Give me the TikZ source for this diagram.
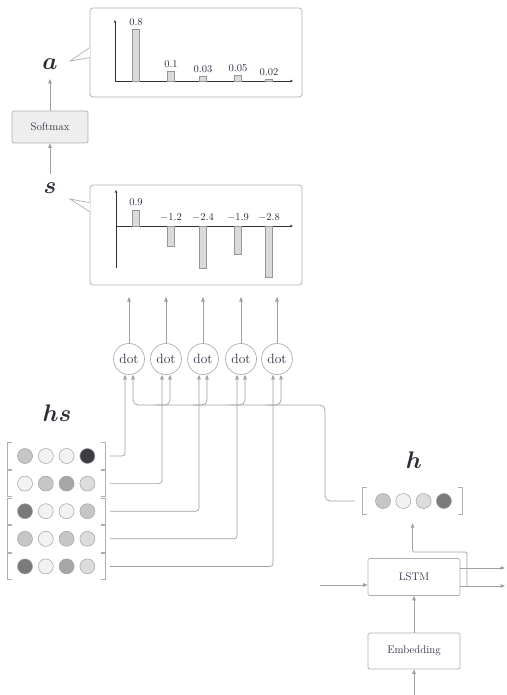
\RequirePackage{fix-cm}
\documentclass[tikz,border=0pt]{standalone}
\usepackage{amsmath}
\usepackage{fontspec}
\usepackage{tikz}
\usetikzlibrary{arrows.meta,calc}

\definecolor{wirec}{RGB}{160,160,160}
\definecolor{boxc}{RGB}{175,175,175}
\definecolor{txtc}{RGB}{45,45,65}
\definecolor{lblc}{RGB}{45,45,55}
\definecolor{axisc}{RGB}{50,50,50}
\definecolor{barf}{RGB}{218,218,218}
\definecolor{barc}{RGB}{150,150,150}
\definecolor{softf}{RGB}{238,238,238}
\definecolor{cellc}{RGB}{160,160,160}
\definecolor{cvl}{RGB}{242,242,242}
\definecolor{cl}{RGB}{220,220,220}
\definecolor{cm}{RGB}{198,198,198}
\definecolor{cmd}{RGB}{166,166,166}
\definecolor{cd}{RGB}{122,122,122}
\definecolor{cvd}{RGB}{62,62,66}

\begin{document}
\begin{tikzpicture}[x=1pt,y=-1pt,
   wire/.style={draw=wirec,line width=0.7pt},
   arr/.style={wire,-{Triangle[length=4.5pt,width=3.6pt]}},
   layer/.style={draw=boxc,line width=0.7pt,rounded corners=2pt,minimum width=92pt,text=txtc,font=\fontsize{11}{13}\selectfont},
   dotop/.style={circle,draw=boxc,line width=0.7pt,minimum size=31pt,inner sep=0pt,text=txtc,font=\fontsize{13.5}{15}\selectfont},
   callout/.style={draw=boxc,line width=0.7pt,fill=white},
   axis/.style={draw=axisc,line width=0.6pt,-{Stealth[length=3pt,width=2.5pt]}},
   bar/.style={draw=barc,fill=barf,line width=0.5pt},
   val/.style={text=txtc,font=\fontsize{10.5}{12}\selectfont,inner sep=0pt},
   cell/.style={circle,draw=cellc,minimum size=15pt,inner sep=0pt,line width=0.5pt},
   vec/.style={draw=boxc,line width=0.7pt},
   lbl/.style={text=lblc,font=\fontsize{24}{28}\selectfont}]
\useasboundingbox (0,0) rectangle (506,695);

% attention weights
\node[callout,rounded corners=3pt,minimum width=212pt,minimum height=89pt] (abox) at (196,52.5) {};
\coordinate (atip) at (70,61);
\filldraw[callout] ($(abox.north west)+(0,40)$) -- (atip) -- ($(abox.north west)+(0,50)$);
\draw[white,line width=1.2pt] ($(abox.north west)+(0,40.8)$) -- ($(abox.north west)+(0,49.2)$);
\coordinate (ao) at (115,81);
\draw[axis] (ao) -- (293,81);
\draw[axis] (ao) -- (115,20);
\foreach \x/\h/\1 in %
{136/52/0.8,171/10/0.1,203/5/0.03,238/6/0.05,269/2/0.02} {
   \draw[bar] (\x-3.5,81) rectangle (\x+3.5,81-\h);
   \node[val] at (\x,81-\h-7) {\1};
}
\node[lbl] (la) at (50,64) {$\boldsymbol{a}$};

\node[layer,fill=softf,minimum width=76pt,minimum height=32pt] (softmax) at (50,127) {Softmax};
\draw[arr,shorten >=6pt] (softmax) -- (la);

% scores
\node[callout,rounded corners=3pt,minimum width=212pt,minimum height=100pt] (sbox) at (196,235) {};
\coordinate (stip) at (70,199);
\filldraw[callout] ($(sbox.north west)+(0,18)$) -- (stip) -- ($(sbox.north west)+(0,27)$);
\draw[white,line width=1.2pt] ($(sbox.north west)+(0,18.8)$) -- ($(sbox.north west)+(0,26.2)$);
\coordinate (so) at (116,226);
\draw[axis] (so) -- (293,226);
\draw[axis] (116,268) -- (116,190);
\foreach \x/\h/\1 in %
{136/16/0.9,171/-20/$-1.2$,203/-42/$-2.4$,238/-28/$-1.9$,269/-51/$-2.8$} {
   \draw[bar] (\x-3.5,226) rectangle (\x+3.5,226-\h);
   \pgfmathsetmacro{\ly}{min(226-\h,226)-8}
   \node[val] at (\x,\ly) {\1};
}
\node[lbl] (ls) at (50,188) {$\boldsymbol{s}$};
\draw[arr,shorten <=5pt] (ls) -- (softmax);

% dot products
\coordinate (stop) at (0,297);
\coordinate (bus) at (325,405);
\node[lbl] (lhs) at (57,413) {$\boldsymbol{hs}$};
\node[lbl] (lh) at (414,460) {$\boldsymbol{h}$};
\node[minimum width=99pt,minimum height=26pt,inner sep=0pt] (hv) at (412.5,501) {};
\draw[vec] ([xshift=4pt]hv.north west) -- (hv.north west) -- (hv.south west) -- ([xshift=4pt]hv.south west);
\draw[vec] ([xshift=-4pt]hv.north east) -- (hv.north east) -- (hv.south east) -- ([xshift=-4pt]hv.south east);
\foreach \col [count=\k from 0] in {cm,cvl,cl,cd} {
   \node[cell,fill=\col] (h\k) at (383+20.3*\k,501) {};
}
\foreach \i/\x/\cols in %
{1/129/{cm,cvl,cvl,cvd},2/166/{cvl,cm,cmd,cl},3/203/{cd,cvl,cvl,cm},4/241/{cm,cvl,cm,cl},5/277/{cd,cvl,cmd,cl}} {
   \node[dotop] (d\i) at (\x,359) {dot};
   \draw[arr] (d\i) -- (d\i |- stop);
   \pgfmathsetmacro{\y}{428.4+27.6*\i}
   \node[minimum width=97pt,minimum height=26pt,inner sep=0pt] (r\i) at (56.5,\y) {};
   \draw[vec] ([xshift=4pt]r\i.north west) -- (r\i.north west) -- (r\i.south west) -- ([xshift=4pt]r\i.south west);
   \draw[vec] ([xshift=-4pt]r\i.north east) -- (r\i.north east) -- (r\i.south east) -- ([xshift=-4pt]r\i.south east);
   \foreach \col [count=\k from 0] in \cols {
      \node[cell,fill=\col] (c\i\k) at (25+20.8*\k,\y) {};
   }
   \draw[arr,rounded corners=3pt] ([xshift=5pt]r\i.east) -| ([xshift=-4pt]d\i.south);
}
\draw[arr,rounded corners=5pt] ([xshift=-8pt]hv.west) -| (bus) -| ([xshift=4pt]d1.south);
\foreach \i in {2,...,5} {
   \draw[arr,rounded corners=5pt] ([xshift=-10pt]d\i.south |- bus) -| ([xshift=4pt]d\i.south);
}

% decoder
\node[layer,minimum height=37pt] (lstm) at (414,577) {LSTM};
\node[layer,minimum height=36pt] (emb) at (414,651) {Embedding};
\coordinate (xin) at (414,697);
\coordinate (hin) at (320,585);
\coordinate (cout) at (505,568);
\coordinate (hout) at (505,586);
\coordinate (hsplit) at (467,586);
\coordinate (hup) at (467,552);
\draw[arr] (xin) -- (emb);
\draw[arr] (emb) -- (lstm);
\draw[arr] (hin) -- (hin -| lstm.west);
\draw[arr] (lstm.east |- cout) -- (cout);
\draw[arr] (lstm.east |- hout) -- (hout);
\draw[arr,rounded corners=2pt,shorten >=9pt] (hsplit) -- (hup) -| (hv.south);
\end{tikzpicture}
\end{document}
